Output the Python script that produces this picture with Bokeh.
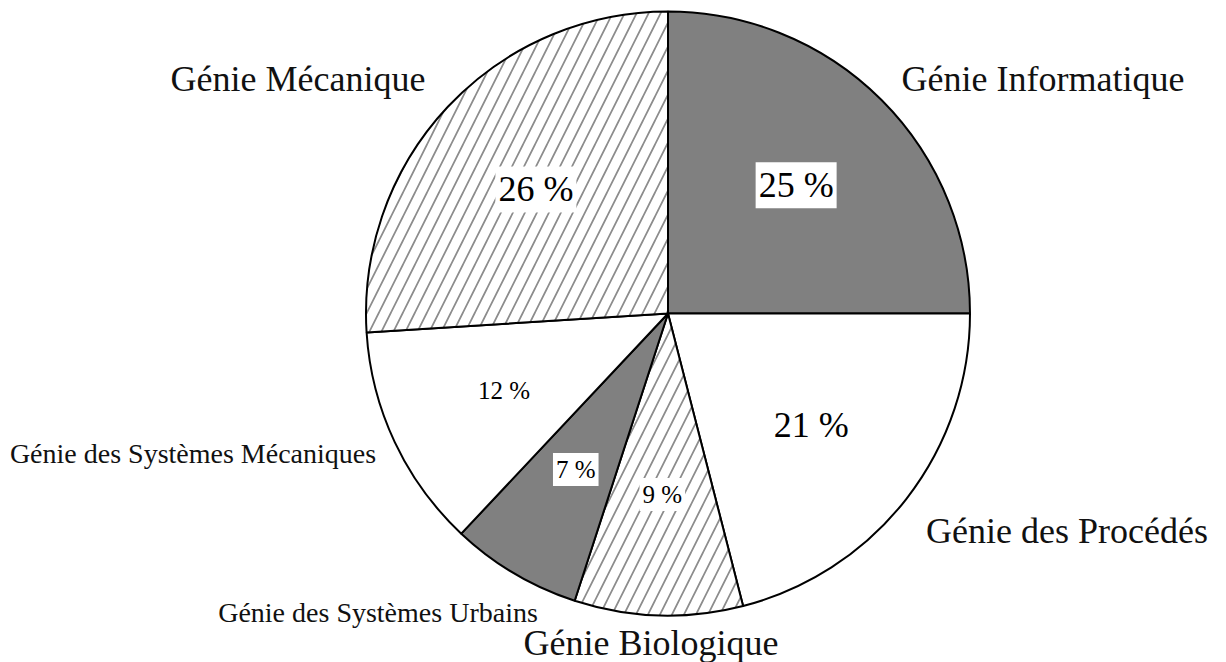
import math
from bokeh.plotting import figure
from bokeh.models import Range1d, ColumnDataSource
from bokeh.core.properties import value
from bokeh.embed import file_html
from bokeh.resources import INLINE

# ---- data ----
categories = ["Génie Informatique", "Génie des Procédés", "Génie Biologique",
              "Génie des Systèmes Urbains", "Génie des Systèmes Mécaniques", "Génie Mécanique"]
percents = [25, 21, 9, 7, 12, 26]

# ---- styles ----
fill_kind = ["gray", "white", "hatch", "gray", "white", "hatch"]
label_size = ["36px", "36px", "36px", "28px", "28px", "36px"]
pct_size = ["36px", "36px", "25px", "25px", "25px", "36px"]
# label centre offsets from pie centre (px, y up)
label_offsets = [(375, 235), (399, -217), (-17, -329), (-290, -299), (-475, -140), (-370, 235)]

W, H = 1226, 662
cx, cy, R = 667.5, 349, 302
FONT = value("Liberation Serif")

p = figure(width=W, height=H, output_backend="svg", toolbar_location=None,
           x_range=Range1d(0, W), y_range=Range1d(0, H), min_border=0)
p.axis.visible = False
p.grid.visible = False
p.outline_line_color = None
p.background_fill_color = "white"
p.border_fill_color = "white"

total = sum(percents)
starts, ends, mids = [], [], []
acc = 0
for v in percents:
    a0 = 90 - 360 * acc / total
    acc += v
    a1 = 90 - 360 * acc / total
    starts.append(math.radians(a0))
    ends.append(math.radians(a1))
    mids.append(math.radians((a0 + a1) / 2))

colors = ["#808080" if k == "gray" else "white" for k in fill_kind]
hatches = ["/" if k == "hatch" else " " for k in fill_kind]

src = ColumnDataSource(dict(x=[cx] * len(percents), y=[cy] * len(percents),
                            start=starts, end=ends, color=colors, hatch=hatches))
p.wedge(x="x", y="y", radius=R, start_angle="start", end_angle="end", direction="clock",
        source=src, fill_color="color", line_color="black", line_width=2,
        hatch_pattern="hatch", hatch_color="#8c8c8c", hatch_weight=1.7, hatch_scale=24)

# percentage labels
psrc = ColumnDataSource(dict(
    x=[cx + 0.6 * R * math.cos(m) for m in mids],
    y=[cy + 0.6 * R * math.sin(m) for m in mids],
    t=[f"{v} %" for v in percents], s=pct_size))
p.text(x="x", y="y", text="t", source=psrc, text_font=FONT, text_font_size="s",
       text_align="center", text_baseline="middle", text_color="black",
       background_fill_color="white", padding=3)

# category labels
lsrc = ColumnDataSource(dict(
    x=[cx + o[0] for o in label_offsets],
    y=[cy + o[1] for o in label_offsets],
    t=categories, s=label_size))
p.text(x="x", y="y", text="t", source=lsrc, text_font=FONT, text_font_size="s",
       text_align="center", text_baseline="middle", text_color="#111111")

open("out.html", "w").write(file_html(p, INLINE))
